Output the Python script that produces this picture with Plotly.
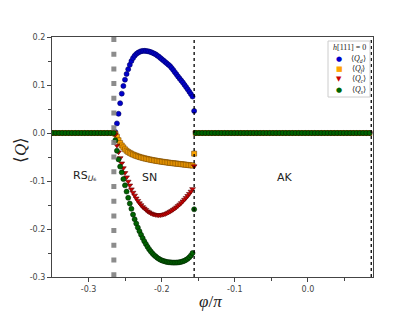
import plotly.graph_objects as go

# ---------------- data ----------------
phi_left = [-0.3536, -0.3492, -0.3448, -0.3404, -0.336, -0.3316, -0.3272, -0.3228, -0.3184,
            -0.314, -0.3096, -0.3052, -0.3008, -0.2964, -0.292, -0.2876, -0.2832, -0.2788,
            -0.2744, -0.27, -0.2656]
phi_right = [-0.1534, -0.149, -0.1446, -0.1402, -0.1358, -0.1314, -0.127, -0.1226, -0.1182,
             -0.1138, -0.1094, -0.105, -0.1006, -0.0962, -0.0918, -0.0874, -0.083, -0.0786,
             -0.0742, -0.0698, -0.0654, -0.061, -0.0566, -0.0522, -0.0478, -0.0434, -0.039,
             -0.0346, -0.0302, -0.0258, -0.0214, -0.017, -0.0126, -0.0082, -0.0038, 0.0006,
             0.005, 0.0094, 0.0138, 0.0182, 0.0226, 0.027, 0.0314, 0.0358, 0.0402, 0.0446,
             0.049, 0.0534, 0.0578, 0.0622, 0.0666, 0.071, 0.0754, 0.0798, 0.0842]
phi_sn = [-0.2634, -0.2612, -0.259, -0.2568, -0.2546, -0.2524, -0.2502, -0.248, -0.2458, -0.2436,
          -0.2414, -0.2392, -0.237, -0.2348, -0.2326, -0.2304, -0.2282, -0.226, -0.2238, -0.2216,
          -0.2194, -0.2172, -0.215, -0.2128, -0.2106, -0.2084, -0.2062, -0.204, -0.2018, -0.1996,
          -0.1974, -0.1952, -0.193, -0.1908, -0.1886, -0.1864, -0.1842, -0.182, -0.1798, -0.1776,
          -0.1754, -0.1732, -0.171, -0.1688, -0.1666, -0.1644, -0.1622, -0.16, -0.1578, -0.1556]

q_d_sn = [0.002, 0.020, 0.040, 0.062, 0.082, 0.098, 0.111, 0.123, 0.133, 0.142,
          0.150, 0.156, 0.161, 0.1645, 0.167, 0.169, 0.1703, 0.171, 0.1712, 0.171,
          0.1705, 0.1697, 0.1686, 0.1672, 0.1657, 0.164, 0.1617, 0.1592, 0.1565, 0.1536,
          0.1508, 0.148, 0.1452, 0.1424, 0.1394, 0.1356, 0.1313, 0.1268, 0.1222, 0.1177,
          0.1134, 0.1092, 0.105, 0.1003, 0.0957, 0.091, 0.086, 0.081, 0.076, 0.046]
q_f_sn = [-0.002, -0.008, -0.015, -0.021, -0.026, -0.030, -0.034, -0.037, -0.0395, -0.0415,
          -0.0433, -0.0449, -0.0463, -0.0476, -0.0488, -0.0499, -0.0509, -0.0518, -0.0527, -0.0535,
          -0.0543, -0.055, -0.0557, -0.0564, -0.057, -0.0576, -0.0582, -0.0588, -0.0593, -0.0598,
          -0.0603, -0.0608, -0.0613, -0.0617, -0.0622, -0.0626, -0.063, -0.0634, -0.0638, -0.0642,
          -0.0646, -0.065, -0.0654, -0.0658, -0.0662, -0.0666, -0.067, -0.0674, -0.0678, -0.043]
q_c_sn = [-0.003, -0.026, -0.040, -0.052, -0.063, -0.073, -0.083, -0.092, -0.101, -0.109,
          -0.117, -0.124, -0.130, -0.136, -0.141, -0.146, -0.150, -0.154, -0.157, -0.160,
          -0.163, -0.165, -0.167, -0.1685, -0.1697, -0.1705, -0.171, -0.1712, -0.171, -0.1705,
          -0.1697, -0.1686, -0.1672, -0.1656, -0.1638, -0.1618, -0.1596, -0.1572, -0.1546, -0.1518,
          -0.1488, -0.1456, -0.1422, -0.1386, -0.1348, -0.1308, -0.1266, -0.1218, -0.1165, -0.069]
q_s_sn = [-0.015, -0.037, -0.055, -0.070, -0.082, -0.096, -0.109, -0.122, -0.135, -0.147,
          -0.158, -0.170, -0.1795, -0.1885, -0.197, -0.2045, -0.212, -0.219, -0.2255, -0.2315,
          -0.237, -0.242, -0.2465, -0.2505, -0.254, -0.257, -0.2597, -0.262, -0.264, -0.2655,
          -0.2667, -0.2677, -0.2685, -0.2691, -0.2695, -0.2698, -0.27, -0.27, -0.2699, -0.2696,
          -0.2691, -0.2684, -0.2674, -0.266, -0.2642, -0.262, -0.259, -0.255, -0.250, -0.159]

# outside the SN window all order parameters vanish
q_zero_left = [0.0] * len(phi_left)
q_zero_right = [0.0] * len(phi_right)

phi_transition_rs = -0.2654
phi_transition_ak = -0.1556
phi_right_line = 0.0866

x_tickvals = [-0.3, -0.2, -0.1, 0.0]
x_ticktext = ["-0.3", "-0.2", "-0.1", "0.0"]
x_minor = [-0.25, -0.15, -0.05, 0.05]
y_tickvals = [0.2, 0.1, 0.0, -0.1, -0.2, -0.3]
y_ticktext = ["0.2", "0.1", "0.0", "-0.1", "-0.2", "-0.3"]
y_minor = [0.15, 0.05, -0.05, -0.15, -0.25]

series = [
    ("⟨Q_d⟩", q_d_sn, "circle", "#0000cc", "#000066"),
    ("⟨Q_f⟩", q_f_sn, "square", "#ffa500", "#7a4a00"),
    ("⟨Q_c⟩", q_c_sn, "triangle-down", "#cc0000", "#5a0000"),
    ("⟨Q_s⟩", q_s_sn, "circle", "#006400", "#002200"),
]

fig = go.Figure()
for name, vals, sym, col, edge in series:
    fig.add_trace(go.Scatter(
        x=phi_left + phi_sn + phi_right,
        y=q_zero_left + vals + q_zero_right,
        mode="markers", name=name, showlegend=False,
        marker=dict(symbol=sym, size=5, color=col, line=dict(color=edge, width=0.6)),
    ))

# transition lines
fig.add_shape(type="line", xref="x", yref="paper", x0=phi_transition_rs, x1=phi_transition_rs,
              y0=1, y1=0, line=dict(color="rgba(128,128,128,0.9)", width=5, dash="5px,9.7px"),
              layer="above")
for xv in [phi_transition_ak, phi_right_line]:
    fig.add_shape(type="line", xref="x", yref="paper", x0=xv, x1=xv, y0=0, y1=1,
                  line=dict(color="black", width=1.3, dash="dot"), layer="above")

# region labels
lab_font = dict(family="DejaVu Sans", size=11, color="#222")
fig.add_annotation(x=-0.305, y=-0.090, text="RS<sub><i>U</i>₆</sub>", showarrow=False,
                   font=lab_font, xanchor="center", yanchor="middle")
fig.add_annotation(x=-0.2163, y=-0.092, text="SN", showarrow=False, font=lab_font,
                   xanchor="center", yanchor="middle")
fig.add_annotation(x=-0.0308, y=-0.092, text="AK", showarrow=False, font=lab_font,
                   xanchor="center", yanchor="middle")

# page geometry (plot area in page pixels; body has an 8px margin)
OFF = 8
PL, PR, PT, PB = 52, 373, 37, 277
W, H = float(PR - PL), float(PB - PT)
def px2paper(px, py):
    return (px - PL) / W, (PB - py) / H

def paper_text(px, py, text, font, **kw):
    xp, yp = px2paper(px, py)
    fig.add_annotation(xref="paper", yref="paper", x=xp, y=yp, text=text, showarrow=False,
                       xanchor="center", yanchor="middle", font=font, **kw)

# axis titles
paper_text(20, 150, "⟨<i>Q</i>⟩", dict(family="Liberation Serif", size=17, color="#222"),
           textangle=-90)
paper_text(210, 301, "<i>φ</i>/<i>π</i>", dict(family="Liberation Serif", size=17, color="#222"))

# legend (drawn as box + text)
L, R, T, B = 328, 370, 41, 97
x0p, y0p = px2paper(L, B)
x1p, y1p = px2paper(R, T)
fig.add_shape(type="rect", xref="paper", yref="paper", x0=x0p, y0=y0p, x1=x1p, y1=y1p,
              line=dict(color="#cccccc", width=1), fillcolor="rgba(255,255,255,0.85)", layer="above")
paper_text(349.5, 47.5, "<i>h</i>[111] = 0", dict(family="Liberation Serif", size=8, color="#222"))
leg_rows = [58.5, 69, 79.3, 90]
leg_sym = ["●", "■", "▼", "●"]
leg_txt = ["⟨<i>Q</i><sub><i>d</i></sub>⟩", "⟨<i>Q</i><sub><i>f</i></sub>⟩",
           "⟨<i>Q</i><sub><i>c</i></sub>⟩", "⟨<i>Q</i><sub><i>s</i></sub>⟩"]
for (name, vals, sym, col, edge), row, g, t in zip(series, leg_rows, leg_sym, leg_txt):
    paper_text(339, row, g, dict(family="DejaVu Sans", size=7, color=col))
    paper_text(358.5, row, t, dict(family="Liberation Serif", size=8, color="#222"))

axis_common = dict(showgrid=False, zeroline=False, showline=True, mirror=True,
                   linecolor="#444", linewidth=1.2, ticks="outside", ticklen=4, tickwidth=1,
                   tickcolor="#444", tickfont=dict(family="DejaVu Sans", size=8, color="#444"))
fig.update_xaxes(range=[-0.35, 0.089], tickmode="array", tickvals=x_tickvals, ticktext=x_ticktext,
                 minor=dict(tickvals=x_minor, ticks="outside", ticklen=2.5, tickcolor="#444"),
                 **axis_common)
fig.update_yaxes(range=[-0.3, 0.2], tickmode="array", tickvals=y_tickvals, ticktext=y_ticktext,
                 minor=dict(tickvals=y_minor, ticks="outside", ticklen=2.5, tickcolor="#444"),
                 **axis_common)

FW, FH = 415 - OFF, 312 - OFF
fig.update_layout(width=FW, height=FH,
                  margin=dict(l=PL - OFF, r=FW - (PR - OFF), t=PT - OFF, b=FH - (PB - OFF), pad=0),
                  plot_bgcolor="white", paper_bgcolor="white", showlegend=False)
fig.write_html("out.html")
